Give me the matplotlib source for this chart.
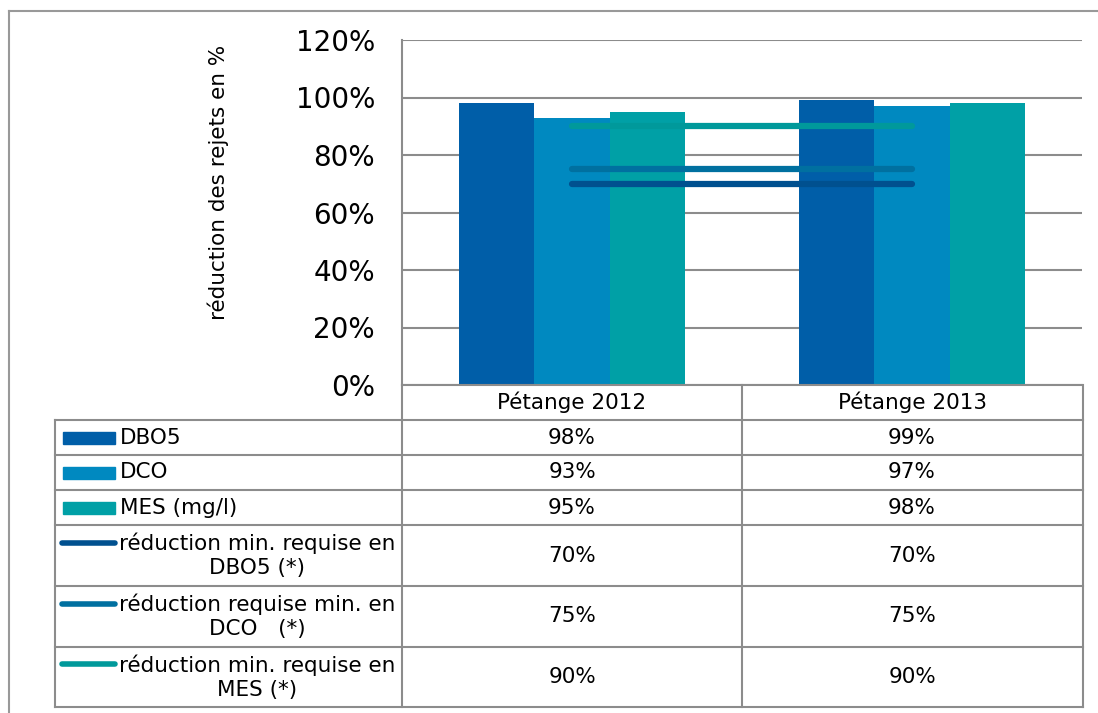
import matplotlib.pyplot as plt
from matplotlib.lines import Line2D
from matplotlib.patches import Rectangle
from matplotlib.ticker import FuncFormatter
from matplotlib.transforms import blended_transform_factory
import numpy as np

# data
categories = ['Pétange 2012', 'Pétange 2013']
dbo5 = [98, 99]
dco = [93, 97]
mes = [95, 98]
min_dbo5 = [70, 70]
min_dco = [75, 75]
min_mes = [90, 90]

bar_series = [('DBO5', dbo5, '#005ea8'),
              ('DCO', dco, '#0089c0'),
              ('MES (mg/l)', mes, '#00a0a6')]
line_series = [('réduction min. requise en\nDBO5 (*)', min_dbo5, '#00508f'),
               ('réduction requise min. en\nDCO   (*)', min_dco, '#0070a0'),
               ('réduction min. requise en\nMES (*)', min_mes, '#00999b')]

W, H = 1098, 713
grid_col = '#8c8c8c'
plt.rcParams['font.family'] = 'DejaVu Sans'

fig = plt.figure(figsize=(W / 100, H / 100), dpi=100)

# overlay in pixel coordinates for table and frame
ov = fig.add_axes([0, 0, 1, 1], zorder=0)
ov.set_xlim(0, W)
ov.set_ylim(H, 0)
ov.axis('off')

# main plot area
left, right, top, bottom = 402, 1082, 40, 385
ax = fig.add_axes([left / W, 1 - bottom / H, (right - left) / W, (bottom - top) / H], zorder=1)
ax.patch.set_alpha(0)

x = np.arange(len(categories))
bw = 0.222
for i, (name, vals, col) in enumerate(bar_series):
    ax.bar(x + (i - 1) * bw, vals, width=bw, color=col, zorder=2)
for name, vals, col in line_series:
    ax.plot(x, vals, color=col, lw=4.5, solid_capstyle='round', zorder=3)

ax.set_xlim(-0.5, 1.5)
ax.set_ylim(0, 120)
ax.set_yticks(range(0, 121, 20))
ax.yaxis.set_major_formatter(FuncFormatter(lambda v, p: '%d%%' % v))
ax.tick_params(axis='y', length=0, pad=19.5, labelsize=20)
ax.set_xticks([])
ax.grid(axis='y', color=grid_col, lw=1.5, zorder=0)
for s in ['top', 'right']:
    ax.spines[s].set_visible(False)
for s in ['left', 'bottom']:
    ax.spines[s].set_color(grid_col)
    ax.spines[s].set_linewidth(1.5)

ov.text(218, 182, 'réduction des rejets en %', rotation=90, ha='center', va='center', fontsize=15.5)

# outer chart frame
ov.add_line(Line2D([9, W], [11, 11], color='#999999', lw=1.5))
ov.add_line(Line2D([9, 9], [11, H], color='#999999', lw=1.5))

# data table
rows = [385, 420, 455, 490, 525, 586, 647, 707]
tl, tr = 55, 1083
col_x = [left, 742, tr]
for y in rows[1:]:
    ov.add_line(Line2D([tl, tr], [y, y], color=grid_col, lw=1.5))
ov.add_line(Line2D([tl, tl], [rows[1], rows[-1]], color=grid_col, lw=1.5))
for cx in col_x:
    ov.add_line(Line2D([cx, cx], [rows[0], rows[-1]], color=grid_col, lw=1.5))

tr_x = blended_transform_factory(ax.transData, ov.transData)
fs = 15.5
for j, cat in enumerate(categories):
    ov.text(x[j], (rows[0] + rows[1]) / 2, cat, transform=tr_x, ha='center', va='center', fontsize=fs)

for i, (name, vals, col) in enumerate(bar_series):
    yc = (rows[i + 1] + rows[i + 2]) / 2
    ov.add_patch(Rectangle((63, yc - 6), 52, 12, color=col))
    ov.text(120, yc, name, ha='left', va='center', fontsize=fs)
    for j, v in enumerate(vals):
        ov.text(x[j], yc, '%d%%' % v, transform=tr_x, ha='center', va='center', fontsize=fs)

for i, (name, vals, col) in enumerate(line_series):
    k = i + 4
    yc = (rows[k] + rows[k + 1]) / 2
    ov.add_line(Line2D([62, 115], [yc - 13, yc - 13], color=col, lw=4, solid_capstyle='round'))
    ov.text(257, yc, name, ha='center', va='center', ma='center', fontsize=fs, linespacing=1.25)
    for j, v in enumerate(vals):
        ov.text(x[j], yc, '%d%%' % v, transform=tr_x, ha='center', va='center', fontsize=fs)

fig.savefig('out.png', dpi=100)
